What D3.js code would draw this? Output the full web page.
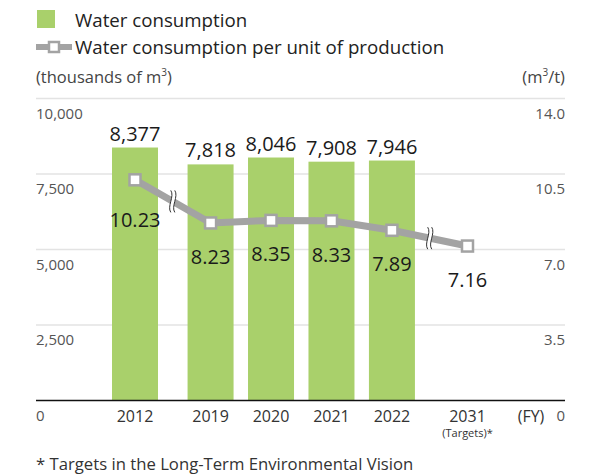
<!DOCTYPE html>
<html><head><meta charset="utf-8">
<script src="https://cdn.jsdelivr.net/npm/d3@7"></script>
<style>
html,body{margin:0;padding:0;background:#fff;}
svg{display:block;font-family:"Open Sans",sans-serif;}
</style></head>
<body>
<svg id="chart" width="598" height="475"></svg>
<script>
const categories = ["2012","2019","2020","2021","2022","2031"];
const waterConsumption = [8377, 7818, 8046, 7908, 7946, null];
const perUnit = [10.23, 8.23, 8.35, 8.33, 7.89, 7.16];
const breaksAfter = ["2012","2022"];
const leftTicks = [0, 2500, 5000, 7500, 10000];
const rightTicks = [0, 3.5, 7.0, 10.5, 14.0];
const legendLabels = ["Water consumption","Water consumption per unit of production"];
const footnote = "* Targets in the Long-Term Environmental Vision";

const green = "#a9d06b", gray = "#a3a3a3";
const svg = d3.select("#chart");

// slot positions: index plus an extra gap for each axis break
let extra = 0;
const slots = categories.map((c,i)=>{ const s = i + extra; if (breaksAfter.includes(c)) extra += 0.25; return s; });
const x = d3.scaleLinear().domain([0, d3.max(slots)]).range([135, 467.5]);
const yL = d3.scaleLinear().domain([0, 10000]).range([400.5, 98.5]);
const yR = d3.scaleLinear().domain([0, 14]).range([400.5, 98.5]);
const left = 36, right = 565, barW = 46;

// legend
svg.append("rect").attr("x",37).attr("y",10).attr("width",18).attr("height",18).attr("fill",green);
svg.append("text").attr("x",75).attr("y",27).attr("font-size",18.7).attr("fill","#222").text(legendLabels[0]);
svg.append("line").attr("x1",36).attr("x2",72).attr("y1",47).attr("y2",47).attr("stroke",gray).attr("stroke-width",6);
svg.append("rect").attr("x",49).attr("y",42).attr("width",10).attr("height",10).attr("fill","#fff").attr("stroke",gray).attr("stroke-width",2.5);
svg.append("text").attr("x",75).attr("y",54).attr("font-size",18.7).attr("fill","#222").text(legendLabels[1]);

// units
const unitL = svg.append("text").attr("x",left).attr("y",82.5).attr("font-size",16.5).attr("fill","#444");
unitL.append("tspan").text("(thousands of m");
unitL.append("tspan").attr("font-size",10).attr("dy",-7).text("3");
unitL.append("tspan").attr("dy",7).text(")");
const unitR = svg.append("text").attr("x",right).attr("y",82.5).attr("font-size",16.5).attr("fill","#444").attr("text-anchor","end");
unitR.append("tspan").text("(m");
unitR.append("tspan").attr("font-size",10).attr("dy",-7).text("3");
unitR.append("tspan").attr("dy",7).text("/t)");

// gridlines
svg.append("g").selectAll("line").data(leftTicks.filter(d=>d>0)).join("line")
  .attr("x1",left).attr("x2",right).attr("y1",d=>yL(d)).attr("y2",d=>yL(d))
  .attr("stroke","#e3e3e3").attr("stroke-width",1.5);

// axis labels
const fmt = d3.format(",");
svg.append("g").selectAll("text").data(leftTicks).join("text")
  .attr("x",left).attr("y",d=>yL(d)+20).attr("font-size",15).attr("fill","#555")
  .text(d=>fmt(d));
svg.append("g").selectAll("text").data(rightTicks).join("text")
  .attr("x",right).attr("y",d=>yR(d)+20).attr("font-size",15).attr("fill","#555").attr("text-anchor","end")
  .text(d=>d===0?"0":d3.format(".1f")(d));

// bars
const barData = categories.map((c,i)=>({c, s:slots[i], v:waterConsumption[i]})).filter(d=>d.v!=null);
svg.append("g").selectAll("rect").data(barData).join("rect")
  .attr("x",d=>x(d.s)-barW/2).attr("width",barW)
  .attr("y",d=>yL(d.v)).attr("height",d=>yL(0)-yL(d.v)).attr("fill",green);
svg.append("g").selectAll("text").data(barData).join("text")
  .attr("x",d=>x(d.s)).attr("y",d=>yL(d.v)-7).attr("text-anchor","middle")
  .attr("font-size",20).attr("fill","#1a1a1a").text(d=>fmt(d.v));

// axis line
svg.append("line").attr("x1",left).attr("x2",right).attr("y1",yL(0)).attr("y2",yL(0)).attr("stroke","#111").attr("stroke-width",1.5);

// x labels
svg.append("g").selectAll("text").data(categories.map((c,i)=>({c,s:slots[i]}))).join("text")
  .attr("x",d=>x(d.s)).attr("y",422).attr("text-anchor","middle").attr("font-size",16).attr("fill","#333").text(d=>d.c);
svg.append("text").attr("x",x(slots[5])).attr("y",437).attr("text-anchor","middle").attr("font-size",11).attr("fill","#333").text("(Targets)*");
svg.append("text").attr("x",531).attr("y",422).attr("text-anchor","middle").attr("font-size",16).attr("fill","#333").text("(FY)");

// line
const lineData = categories.map((c,i)=>({c,s:slots[i],v:perUnit[i]}));
svg.append("path").datum(lineData)
  .attr("d", d3.line().x(d=>x(d.s)).y(d=>yR(d.v)))
  .attr("fill","none").attr("stroke",gray).attr("stroke-width",7).attr("stroke-linejoin","round");

// break symbols
breaksAfter.forEach(b=>{
  const i = categories.indexOf(b);
  const a = lineData[i], c = lineData[i+1];
  const mx = (x(a.s)+x(c.s))/2, my = (yR(a.v)+yR(c.v))/2;
  const g = svg.append("g").attr("transform",`translate(${mx},${my})`);
  const w = (dx)=>`M${dx},-11 C${dx+4},-5 ${dx-4},5 ${dx},11`;
  g.append("path").attr("d", `M-2,-11 C2,-5 -6,5 -2,11 L2,11 C-2,5 6,-5 2,-11 Z`).attr("fill","#fff");
  g.append("path").attr("d", w(-2)).attr("fill","none").attr("stroke","#333").attr("stroke-width",1);
  g.append("path").attr("d", w(2)).attr("fill","none").attr("stroke","#333").attr("stroke-width",1);
});

// markers
svg.append("g").selectAll("rect").data(lineData).join("rect")
  .attr("x",d=>x(d.s)-5.5).attr("y",d=>yR(d.v)-5.5).attr("width",11).attr("height",11)
  .attr("fill","#fff").attr("stroke",gray).attr("stroke-width",2.5);

// line labels
svg.append("g").selectAll("text").data(lineData).join("text")
  .attr("x",d=>x(d.s)).attr("y",(d,i)=>yR(d.v)+(i===0?47:41)).attr("text-anchor","middle")
  .attr("font-size",20).attr("fill","#1a1a1a").text(d=>d.v.toFixed(2));

// footnote
svg.append("text").attr("x",left).attr("y",470).attr("font-size",16.7).attr("fill","#333").text(footnote);
</script>
</body></html>
